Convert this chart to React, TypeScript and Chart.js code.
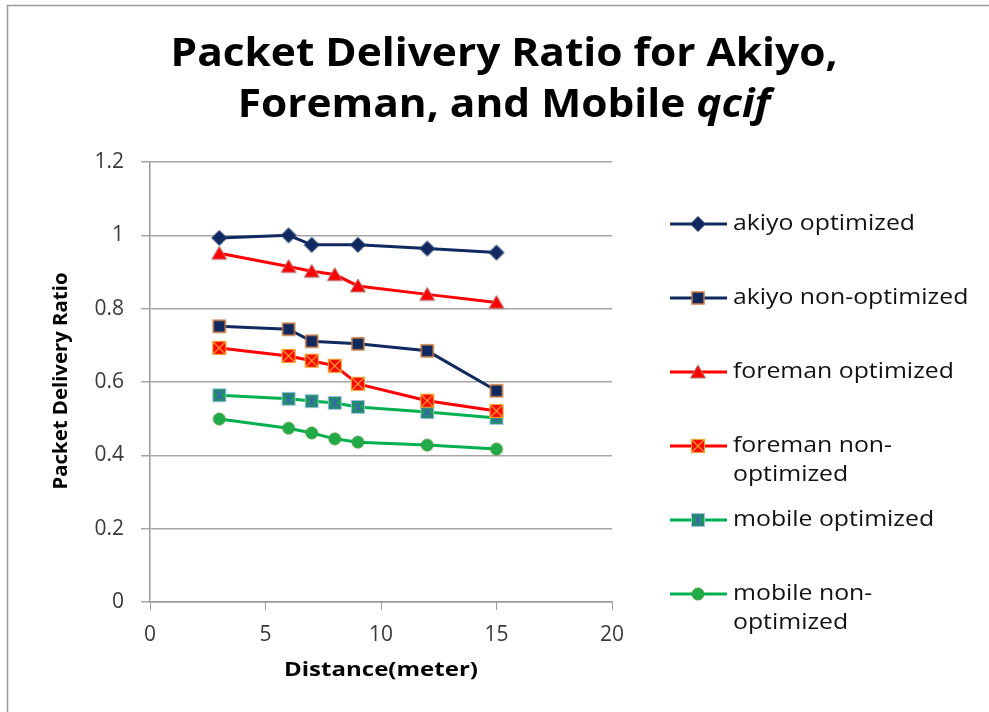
import React, { useEffect, useRef } from "react";
import { Chart, registerables } from "chart.js";

Chart.register(...registerables);

// ---- Data ----
const X_AKIYO = [3, 6, 7, 9, 12, 15];
const X_OTHER = [3, 6, 7, 8, 9, 12, 15];

const AKIYO_OPT = [0.993, 1.0, 0.974, 0.974, 0.964, 0.953];
const AKIYO_NON = [0.752, 0.744, 0.711, 0.704, 0.685, 0.576];
const FOREMAN_OPT = [0.951, 0.915, 0.902, 0.893, 0.862, 0.839, 0.817];
const FOREMAN_NON = [0.693, 0.671, 0.658, 0.644, 0.595, 0.549, 0.521];
const MOBILE_OPT = [0.564, 0.554, 0.548, 0.543, 0.532, 0.518, 0.502];
const MOBILE_NON = [0.499, 0.474, 0.461, 0.445, 0.436, 0.428, 0.417];

const SERIES_NAMES = [
  "akiyo optimized",
  "akiyo non-optimized",
  "foreman optimized",
  "foreman non-optimized",
  "mobile optimized",
  "mobile non-optimized",
];

const TITLE_LINE_1 = "Packet Delivery Ratio for Akiyo,";
const TITLE_LINE_2_A = "Foreman, and Mobile ";
const TITLE_LINE_2_B = "qcif";
const X_TITLE = "Distance(meter)";
const Y_TITLE = "Packet Delivery Ratio";

const NAVY = "#10295f";
const RED = "#ff0000";
const GREEN = "#00b050";
const FONT = "'Open Sans', Lato, sans-serif";
const TICK_FONT = "'Open Sans', sans-serif";

function makeMarker(kind: string): HTMLCanvasElement {
  const c = document.createElement("canvas");
  c.width = 18;
  c.height = 18;
  const g = c.getContext("2d") as CanvasRenderingContext2D;
  const cx = 9,
    cy = 9;
  g.lineJoin = "miter";
  if (kind === "diamond") {
    g.beginPath();
    g.moveTo(cx, cy - 7.5);
    g.lineTo(cx + 7.5, cy);
    g.lineTo(cx, cy + 7.5);
    g.lineTo(cx - 7.5, cy);
    g.closePath();
    g.fillStyle = NAVY;
    g.fill();
    g.strokeStyle = "#2a4478";
    g.lineWidth = 1;
    g.stroke();
  } else if (kind === "squareNavy") {
    g.fillStyle = NAVY;
    g.fillRect(cx - 6, cy - 6, 12, 12);
    g.strokeStyle = "#c87a40";
    g.lineWidth = 1.5;
    g.strokeRect(cx - 6, cy - 6, 12, 12);
  } else if (kind === "triangle") {
    g.beginPath();
    g.moveTo(cx, cy - 7);
    g.lineTo(cx + 7.5, cy + 6);
    g.lineTo(cx - 7.5, cy + 6);
    g.closePath();
    g.fillStyle = RED;
    g.fill();
    g.strokeStyle = "#b08080";
    g.lineWidth = 1;
    g.stroke();
  } else if (kind === "squareX") {
    g.fillStyle = RED;
    g.fillRect(cx - 6.5, cy - 6.5, 13, 13);
    g.strokeStyle = "#f0a030";
    g.lineWidth = 1.2;
    g.strokeRect(cx - 6.5, cy - 6.5, 13, 13);
    g.beginPath();
    g.moveTo(cx - 6, cy - 6);
    g.lineTo(cx + 6, cy + 6);
    g.moveTo(cx + 6, cy - 6);
    g.lineTo(cx - 6, cy + 6);
    g.stroke();
  } else if (kind === "squareStar") {
    g.fillStyle = "#1e9a55";
    g.fillRect(cx - 6.5, cy - 6.5, 13, 13);
    g.strokeStyle = "#9cc0e8";
    g.lineWidth = 1;
    g.strokeRect(cx - 6.5, cy - 6.5, 13, 13);
    g.strokeStyle = "#3d5fc0";
    g.lineWidth = 1.2;
    g.beginPath();
    g.moveTo(cx, cy - 6);
    g.lineTo(cx, cy + 6);
    g.moveTo(cx - 5, cy - 5);
    g.lineTo(cx + 5, cy + 5);
    g.moveTo(cx + 5, cy - 5);
    g.lineTo(cx - 5, cy + 5);
    g.stroke();
  } else {
    g.beginPath();
    g.arc(cx, cy, 6, 0, Math.PI * 2);
    g.fillStyle = "#1fab48";
    g.fill();
    g.strokeStyle = "#4c9a3a";
    g.lineWidth = 1;
    g.stroke();
  }
  return c;
}

// draw text left-aligned at x with horizontal stretch sx
function stretchText(ctx: CanvasRenderingContext2D, text: string, x: number, y: number, sx: number) {
  ctx.save();
  ctx.translate(x, y);
  ctx.scale(sx, 1);
  ctx.fillText(text, 0, 0);
  ctx.restore();
}

const decorPlugin = {
  id: "decor",
  afterDraw(chart: any) {
    const ctx: CanvasRenderingContext2D = chart.ctx;
    const area = chart.chartArea;
    ctx.save();
    // outer frame
    ctx.strokeStyle = "#9a9a9a";
    ctx.lineWidth = 1.5;
    ctx.beginPath();
    ctx.moveTo(7.5, 720);
    ctx.lineTo(7.5, 5.5);
    ctx.lineTo(1000, 5.5);
    ctx.stroke();

    // title
    ctx.fillStyle = "#000";
    ctx.textBaseline = "alphabetic";
    ctx.textAlign = "left";
    const titleCx = 504;
    const tSize = 39;
    ctx.font = `bold ${tSize}px ${FONT}`;
    const w1 = ctx.measureText(TITLE_LINE_1).width;
    const sx = 667 / w1;
    stretchText(ctx, TITLE_LINE_1, titleCx - (w1 * sx) / 2, 66, sx);
    const wa = ctx.measureText(TITLE_LINE_2_A).width;
    ctx.font = `italic bold ${tSize}px ${FONT}`;
    const wb = ctx.measureText(TITLE_LINE_2_B).width;
    const start2 = titleCx - ((wa + wb) * sx) / 2;
    ctx.font = `bold ${tSize}px ${FONT}`;
    stretchText(ctx, TITLE_LINE_2_A, start2, 117, sx);
    ctx.font = `italic bold ${tSize}px ${FONT}`;
    stretchText(ctx, TITLE_LINE_2_B, start2 + wa * sx, 117, sx);

    // axis titles
    ctx.font = `bold 19px ${FONT}`;
    ctx.textAlign = "left";
    ctx.textBaseline = "middle";
    const wx = ctx.measureText(X_TITLE).width;
    const sxx = 194 / wx;
    stretchText(ctx, X_TITLE, (area.left + area.right) / 2 - 97, 671, sxx);
    const wy = ctx.measureText(Y_TITLE).width;
    const sy = 217 / wy;
    ctx.save();
    ctx.translate(62, 381);
    ctx.rotate(-Math.PI / 2);
    stretchText(ctx, Y_TITLE, -108.5, 0, sy);
    ctx.restore();

    // legend
    ctx.textAlign = "left";
    ctx.textBaseline = "middle";
    ctx.font = `21.5px ${FONT}`;
    const sl = 182 / ctx.measureText(SERIES_NAMES[0]).width;
    const datasets = chart.data.datasets;
    datasets.forEach((ds: any, i: number) => {
      const y = 224 + i * 74;
      ctx.strokeStyle = ds.borderColor;
      ctx.lineWidth = 3;
      ctx.beginPath();
      ctx.moveTo(670, y);
      ctx.lineTo(727, y);
      ctx.stroke();
      const img = ds.pointStyle as HTMLCanvasElement;
      ctx.drawImage(img, 698 - img.width / 2, y - img.height / 2);
      ctx.fillStyle = "#111";
      const label: string = ds.label;
      if (ctx.measureText(label).width * sl > 250 && label.indexOf("non-") >= 0) {
        const k = label.indexOf("non-") + 4;
        stretchText(ctx, label.slice(0, k), 733, y, sl);
        stretchText(ctx, label.slice(k), 733, y + 29, sl);
      } else {
        stretchText(ctx, label, 733, y, sl);
      }
    });
    ctx.restore();
  },
};

export default function App() {
  const ref = useRef<HTMLCanvasElement | null>(null);

  useEffect(() => {
    const canvas = ref.current;
    if (!canvas) return;
    let chart: Chart | null = null;
    let cancelled = false;

    const build = () => {
      if (cancelled) return;
      const mk = (xs: number[], ys: number[]) => xs.map((x, i) => ({ x, y: ys[i] }));
      const series = [
        { data: mk(X_AKIYO, AKIYO_OPT), color: NAVY, marker: "diamond" },
        { data: mk(X_AKIYO, AKIYO_NON), color: NAVY, marker: "squareNavy" },
        { data: mk(X_OTHER, FOREMAN_OPT), color: RED, marker: "triangle" },
        { data: mk(X_OTHER, FOREMAN_NON), color: RED, marker: "squareX" },
        { data: mk(X_OTHER, MOBILE_OPT), color: GREEN, marker: "squareStar" },
        { data: mk(X_OTHER, MOBILE_NON), color: GREEN, marker: "circle" },
      ];
      chart = new Chart(canvas, {
        type: "scatter",
        data: {
          datasets: series.map((s, i) => ({
            label: SERIES_NAMES[i],
            data: s.data,
            showLine: true,
            borderColor: s.color,
            backgroundColor: s.color,
            borderWidth: 3,
            pointStyle: makeMarker(s.marker),
            pointRadius: 7,
            tension: 0,
          })),
        },
        options: {
          responsive: false,
          animation: false,
          layout: { padding: { left: 0, top: 162, right: 377, bottom: 0 } },
          plugins: {
            legend: { display: false },
            title: { display: false },
            tooltip: { enabled: false },
          },
          scales: {
            x: {
              type: "linear",
              min: 0,
              max: 20,
              ticks: {
                stepSize: 5,
                color: "#3a3a3a",
                font: { family: TICK_FONT, size: 21 },
                padding: 12,
              },
              grid: {
                drawOnChartArea: false,
                drawTicks: true,
                tickLength: 8,
                color: "#9a9a9a",
              },
              border: { color: "#9a9a9a", width: 1.5 },
              afterFit: (scale: any) => {
                scale.height = 110;
              },
            },
            y: {
              type: "linear",
              min: 0,
              max: 1.2,
              ticks: {
                stepSize: 0.2,
                color: "#3a3a3a",
                font: { family: TICK_FONT, size: 21 },
                padding: 17,
                callback: (v: any) => String(Number(Number(v).toFixed(1))),
              },
              grid: {
                color: "#a6a6a6",
                lineWidth: 1.5,
                tickLength: 9,
              },
              border: { color: "#9a9a9a", width: 1.5 },
              afterFit: (scale: any) => {
                scale.width = 150;
              },
            },
          },
        },
        plugins: [decorPlugin],
      });
    };

    const fonts: any = (document as any).fonts;
    if (fonts && fonts.load) {
      Promise.all([
        fonts.load("20px 'Open Sans'"),
        fonts.load("bold 20px 'Open Sans'"),
        fonts.load("italic bold 20px 'Open Sans'"),
      ])
        .catch(() => null)
        .then(build);
    } else {
      build();
    }
    return () => {
      cancelled = true;
      if (chart) chart.destroy();
    };
  }, []);

  return (
    <div style={{ position: "absolute", left: 0, top: 0, width: 989, height: 712, background: "#fff" }}>
      <canvas ref={ref} width={989} height={712} style={{ display: "block" }} />
    </div>
  );
}
